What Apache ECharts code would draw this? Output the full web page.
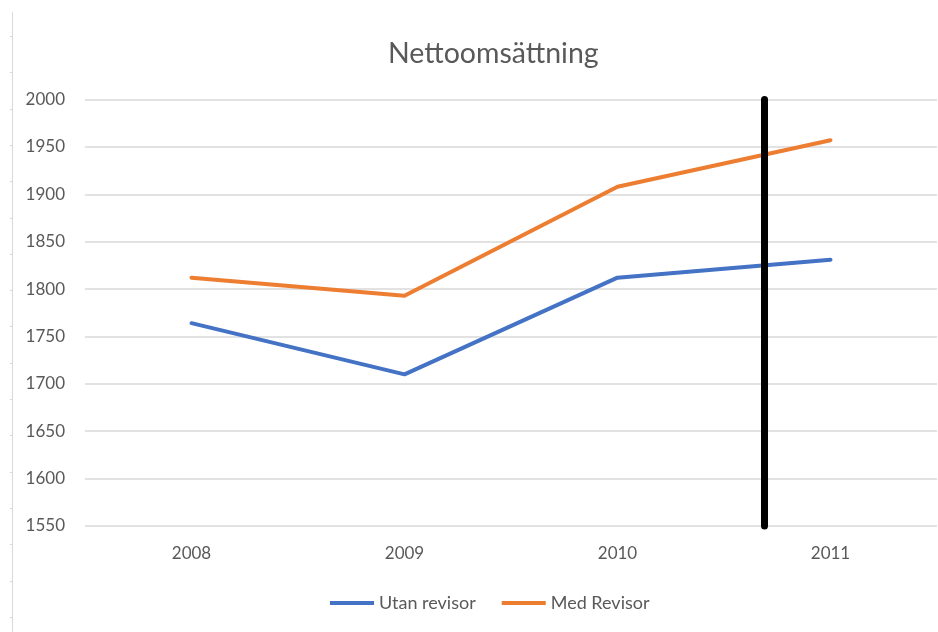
<!DOCTYPE html>
<html>
<head>
<meta charset="utf-8">
<script src="https://cdn.jsdelivr.net/npm/echarts@6/dist/echarts.min.js"></script>
<style>
  html, body { margin: 0; padding: 0; background: #fff; }
  #chart { width: 938px; height: 632px; }
</style>
</head>
<body>
<div id="chart"></div>
<script>
// Net sales per year, with and without an auditor
const years = ['2008', '2009', '2010', '2011'];
const utanRevisor = [1764, 1710, 1812, 1831];
const medRevisor = [1812, 1793, 1908, 1957];
const yTicks = { min: 1550, max: 2000, step: 50 };
// Position of the vertical marker, in category units (0 = 2008)
const markerPosition = [2.69];

const textColor = '#595959';
const font = 'Lato, "Open Sans", sans-serif';

const chart = echarts.init(document.getElementById('chart'), null, { renderer: 'canvas' });

// Thin ruler line down the left edge with small ticks
const ruler = [{
  type: 'line',
  shape: { x1: 12.5, y1: 12, x2: 12.5, y2: 632 },
  style: { stroke: '#d9d9d9', lineWidth: 1 }
}];
for (let y = 36; y < 632; y += 36.3) {
  ruler.push({
    type: 'line',
    shape: { x1: 10, y1: Math.round(y) + 0.5, x2: 12, y2: Math.round(y) + 0.5 },
    style: { stroke: '#d9d9d9', lineWidth: 1 }
  });
}

chart.setOption({
  backgroundColor: '#ffffff',
  animation: false,
  title: {
    text: 'Nettoomsättning',
    left: 383,
    top: 34,
    textStyle: { color: textColor, fontFamily: font, fontSize: 28.5, fontWeight: 'normal' }
  },
  legend: {
    bottom: 20,
    left: 330,
    padding: 0,
    itemWidth: 44,
    itemHeight: 4,
    itemGap: 26,
    icon: 'rect',
    textStyle: { color: textColor, fontFamily: font, fontSize: 18 },
    data: ['Utan revisor', 'Med Revisor']
  },
  grid: { left: 85, right: 1, top: 99.5, bottom: 106, containLabel: false },
  xAxis: [{
    type: 'category',
    data: years,
    boundaryGap: true,
    axisLine: { show: false },
    axisTick: { show: false },
    axisLabel: { color: textColor, fontFamily: font, fontSize: 17, margin: 19 }
  }, {
    type: 'value',
    min: -0.5,
    max: 3.5,
    show: false
  }],
  yAxis: {
    type: 'value',
    min: yTicks.min,
    max: yTicks.max,
    interval: yTicks.step,
    axisLine: { show: false },
    axisTick: { show: false },
    axisLabel: {
      color: textColor, fontFamily: font, fontSize: 17, margin: 20,
      formatter: v => String(v)
    },
    splitLine: { lineStyle: { color: '#d9d9d9', width: 1.5 } }
  },
  series: [{
    name: 'Utan revisor',
    type: 'line',
    data: utanRevisor,
    symbol: 'none',
    color: '#4472C4',
    lineStyle: { width: 4, color: '#4472C4', cap: 'round', join: 'round' }
  }, {
    name: 'Med Revisor',
    type: 'line',
    data: medRevisor,
    symbol: 'none',
    color: '#ED7D31',
    lineStyle: { width: 4, color: '#ED7D31', cap: 'round', join: 'round' }
  }, {
    name: 'marker',
    type: 'line',
    xAxisIndex: 1,
    data: [],
    silent: true,
    markLine: {
      symbol: 'none',
      silent: true,
      label: { show: false },
      lineStyle: { color: '#000000', width: 7, type: 'solid', cap: 'round' },
      data: markerPosition.map(v => ({ xAxis: v }))
    }
  }],
  graphic: ruler
});
</script>
</body>
</html>
